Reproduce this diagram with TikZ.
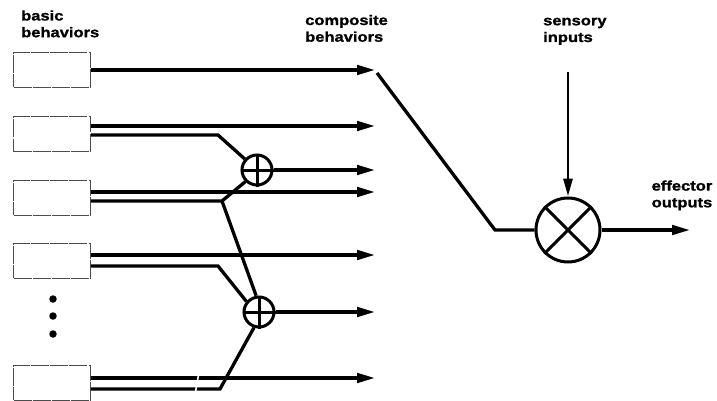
\documentclass[tikz,border=0pt]{standalone}
\usepackage{fontspec}
\newfontfamily\lblfont{Liberation Sans Bold}[FakeStretch=1.18, FakeBold=1.2]
\usetikzlibrary{arrows.meta}
\tikzset{
  bbox/.style={draw=black!70, line width=0.9pt, dash pattern=on 18pt off 1.2pt, rectangle, minimum width=77pt, minimum height=35pt, inner sep=0pt},
  flow/.style={line width=3.3pt, line join=miter},
  arr/.style={flow, -{Triangle[length=18pt,width=9.5pt]}},
  sumnode/.style={circle, draw, line width=3pt, minimum size=30pt, inner sep=0pt},
  mulnode/.style={circle, draw, line width=3pt, minimum size=64pt, inner sep=0pt},
  lbl/.style={font=\lblfont\fontsize{14}{16.7}\selectfont, align=left, inner sep=0pt, anchor=base west},
  dot/.style={circle, fill=black, minimum size=7.5pt, inner sep=0pt}
}
\begin{document}
\begin{tikzpicture}[x=1pt,y=-1pt]
\useasboundingbox (0,0) rectangle (717,401);
% labels (anchored at baseline of last line)
\node[lbl] (tb) at (21,37.2) {basic\\behaviors};
\node[lbl] (tc) at (305,41.7) {composite\\behaviors};
\node[lbl] (ts) at (543,42) {sensory\\inputs};
\node[lbl] (te) at (651.5,207.3) {effector\\outputs};
% boxes
\node[bbox] (b1) at (52,69.5) {};
\node[bbox] (b2) at (52,134) {};
\node[bbox] (b3) at (52,197.5) {};
\node[bbox] (b4) at (52,260.5) {};
\node[bbox] (b5) at (52,382.5) {};
% dots
\node[dot] (d1) at (53,299) {};
\node[dot] (d2) at (53,316) {};
\node[dot] (d3) at (53,334) {};
% summing circles
\node[sumnode] (c1) at (257,170) {};
\node[sumnode] (c2) at (259,312) {};
\draw[line width=3pt] (c1.north) -- (c1.south) (c1.west) -- (c1.east);
\draw[line width=3pt] (c2.north) -- (c2.south) (c2.west) -- (c2.east);
% multiplier
\node[mulnode] (cx) at (568,230) {};
\draw[line width=3pt] (cx.45) -- (cx.225) (cx.135) -- (cx.315);
% coordinates
\coordinate (e1) at (375,70);
\coordinate (e2) at (375,126);
\coordinate (ec1) at (375,170);
\coordinate (e3) at (375,192);
\coordinate (e4) at (375,255);
\coordinate (ec2) at (375,312);
\coordinate (e5) at (375,378);
\coordinate (j2) at (218,135);
\coordinate (j3) at (222,201);
\coordinate (j4) at (218,266);
\coordinate (j5) at (220,389);
\coordinate (k0) at (377,73);
\coordinate (k1) at (495,230);
\coordinate (s0) at (568,72);
\coordinate (eo) at (690,230);
% flows
\draw[arr] (b1.east |- e1) -- (e1);
\draw[arr] (b2.east |- e2) -- (e2);
\draw[flow] (b2.east |- j2) -- (j2) -- (c1.138);
\draw[arr] (c1.east) -- (ec1);
\draw[arr] (b3.east |- e3) -- (e3);
\draw[flow] (b3.east |- j3) -- (j3) -- (c1.225);
\draw[flow] (j3) -- (c2.100);
\draw[arr] (b4.east |- e4) -- (e4);
\draw[flow] (b4.east |- j4) -- (j4) -- (c2.140);
\draw[arr] (c2.east) -- (ec2);
\draw[arr] (b5.east |- e5) -- (e5);
\draw[flow] (b5.east |- j5) -- (j5) -- (c2.252);
% break mark
\draw[white, line width=1.6pt] (195,395) -- (199,372);
% composite to multiplier
\draw[flow] (k0) -- (k1) -- (cx.west);
\draw[line width=2.8pt, -{Triangle[length=18pt,width=9pt]}] (s0) -- (cx.north);
\draw[arr] (cx.east) -- (eo);
\end{tikzpicture}
\end{document}
